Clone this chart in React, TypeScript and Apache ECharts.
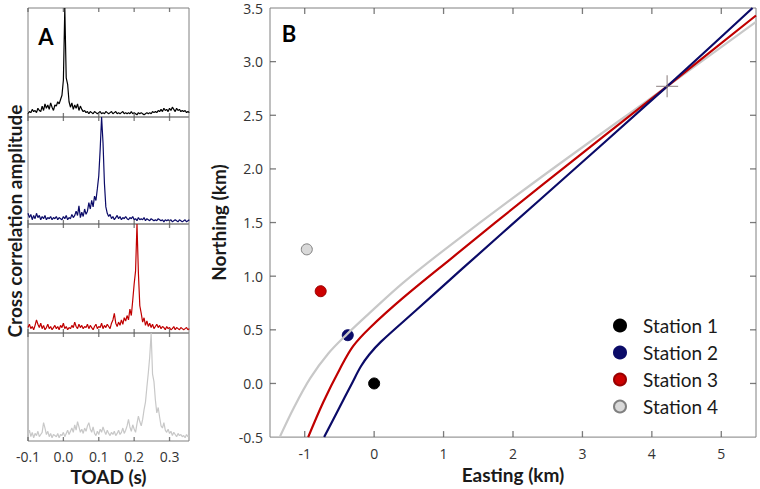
import React, { useEffect, useRef } from "react";
import * as echarts from "echarts";

// ---------- Panel A: cross-correlation traces (TOAD grid: -0.1 s, step 0.004 s) ----------
const TOAD_START = -0.1;
const TOAD_STEP = 0.004;
const TOAD_TICKS = [-0.1, 0, 0.1, 0.2, 0.3];

const TRACE_1 = [
  0.03, 0.05, 0.04, 0.07, 0.05, 0.06, 0.04, 0.08, 0.06, 0.05,
  0.1, 0.06, 0.12, 0.08, 0.11, 0.07, 0.13, 0.09, 0.06, 0.11,
  0.1, 0.14, 0.12, 0.16, 0.2,
  0.34, 1.0, 0.36, 0.3, 0.14,
  0.09, 0.13, 0.07, 0.11, 0.08, 0.12, 0.06, 0.1, 0.07, 0.05,
  0.06, 0.04, 0.05, 0.03, 0.05, 0.04, 0.03, 0.05, 0.04, 0.03,
  0.04, 0.05, 0.03, 0.04, 0.03, 0.05, 0.04, 0.03, 0.04, 0.05,
  0.03, 0.04, 0.05, 0.03, 0.04, 0.03, 0.04, 0.05, 0.03, 0.04,
  0.03, 0.04, 0.03, 0.05, 0.03, 0.04, 0.03, 0.02, 0.04, 0.03,
  0.04, 0.03, 0.02, 0.03, 0.04, 0.03, 0.04, 0.03, 0.05, 0.04,
  0.05, 0.04, 0.06, 0.05, 0.07, 0.05, 0.08, 0.06, 0.07, 0.05,
  0.08, 0.06, 0.09, 0.07, 0.05, 0.08, 0.06, 0.07, 0.05, 0.06,
  0.05, 0.06, 0.04, 0.05, 0.04,
];

const TRACE_2 = [
  0.1, 0.06, 0.09, 0.04, 0.08, 0.05, 0.1, 0.06, 0.08, 0.04,
  0.07, 0.05, 0.08, 0.04, 0.06, 0.05, 0.07, 0.04, 0.06, 0.05,
  0.07, 0.04, 0.06, 0.05, 0.04, 0.07, 0.05, 0.08, 0.04, 0.06,
  0.05, 0.09, 0.06, 0.08, 0.12, 0.08, 0.17, 0.06, 0.11, 0.07,
  0.14, 0.09, 0.12, 0.2, 0.14, 0.22, 0.16, 0.26, 0.22, 0.33,
  0.45, 0.7, 1.0, 0.76, 0.38,
  0.16, 0.1, 0.07, 0.09, 0.05,
  0.07, 0.04, 0.06, 0.08, 0.05, 0.07, 0.04, 0.06, 0.05, 0.07,
  0.05, 0.04, 0.06, 0.05, 0.07, 0.04, 0.05, 0.03, 0.06, 0.04,
  0.05, 0.04, 0.06, 0.03, 0.05, 0.04, 0.03, 0.05, 0.04, 0.03,
  0.04, 0.03, 0.05, 0.04, 0.03, 0.04, 0.02, 0.04, 0.03, 0.04,
  0.03, 0.04, 0.02, 0.03, 0.04, 0.03, 0.02, 0.04, 0.03, 0.02,
  0.03, 0.04, 0.02, 0.03, 0.04,
];

const TRACE_3 = [
  0.05, 0.08, 0.04, 0.06, 0.03, 0.07, 0.12, 0.08, 0.05, 0.09,
  0.04, 0.07, 0.03, 0.05, 0.08, 0.04, 0.06, 0.03, 0.05, 0.07,
  0.04, 0.06, 0.03, 0.07, 0.05, 0.09, 0.04, 0.06, 0.03, 0.05,
  0.04, 0.07, 0.05, 0.1, 0.06, 0.04, 0.08, 0.05, 0.07, 0.04,
  0.06, 0.05, 0.08, 0.04, 0.07, 0.05, 0.03, 0.06, 0.08, 0.04,
  0.06, 0.05, 0.09, 0.04, 0.07, 0.05, 0.08, 0.06, 0.04, 0.09,
  0.12, 0.18, 0.09, 0.06, 0.1, 0.07, 0.12, 0.08, 0.14, 0.11,
  0.16, 0.12, 0.22, 0.16, 0.3, 0.45, 0.57, 1.0, 0.55, 0.25,
  0.18, 0.1, 0.14, 0.07, 0.11, 0.06, 0.09, 0.05, 0.08, 0.04,
  0.06, 0.08, 0.05, 0.07, 0.04, 0.06, 0.05, 0.03, 0.06, 0.04,
  0.05, 0.03, 0.04, 0.06, 0.03, 0.05, 0.04, 0.03, 0.05, 0.04,
  0.03, 0.04, 0.05, 0.03, 0.04,
];

const TRACE_4 = [
  0.06, 0.1, 0.04, 0.08, 0.03, 0.07, 0.05, 0.09, 0.04, 0.06,
  0.08, 0.17, 0.12, 0.06, 0.09, 0.04, 0.07, 0.03, 0.06, 0.05,
  0.04, 0.07, 0.03, 0.06, 0.05, 0.08, 0.04, 0.07, 0.1, 0.06,
  0.09, 0.12, 0.08, 0.15, 0.1, 0.18, 0.13, 0.08, 0.11, 0.07,
  0.12, 0.09, 0.14, 0.17, 0.11, 0.08, 0.13, 0.07, 0.05, 0.09,
  0.06, 0.11, 0.08, 0.13, 0.09, 0.06, 0.1, 0.07, 0.05, 0.08,
  0.06, 0.09, 0.05, 0.07, 0.1, 0.06, 0.08, 0.12, 0.07, 0.1,
  0.14, 0.2, 0.13, 0.09, 0.15, 0.11, 0.08, 0.16, 0.23, 0.18,
  0.14, 0.2, 0.29, 0.36, 0.5, 0.63, 0.78, 1.0, 0.62, 0.55,
  0.38, 0.26, 0.31, 0.22, 0.14, 0.12, 0.17, 0.1, 0.08, 0.11,
  0.07, 0.09, 0.05, 0.08, 0.06, 0.04, 0.07, 0.05, 0.06, 0.04,
  0.05, 0.03, 0.06, 0.04, 0.05,
];

const TRACES = [TRACE_1, TRACE_2, TRACE_3, TRACE_4];
const STATION_COLORS = ["#000000", "#0b0b68", "#c00000", "#c8c8c8"];

// ---------- Panel B: stations, hyperbolas, source ----------
const STATION_NAMES = ["Station 1", "Station 2", "Station 3", "Station 4"];
const STATION_EASTING = [0, -0.38, -0.77, -0.97];
const STATION_NORTHING = [0, 0.45, 0.86, 1.25];
const STATION_FILL = ["#000000", "#0b0b68", "#cc0000", "#d9d9d9"];
const STATION_BORDER = ["#000000", "#0b0b68", "#990000", "#808080"];

const HYPERBOLA_2 = [
  [-0.72, -0.5], [-0.52, -0.25], [-0.32, 0.0], [-0.19, 0.16], [-0.07, 0.27],
  [0.1, 0.39], [0.6, 0.68], [1.27, 1.07], [2.4, 1.72], [4.22, 2.77], [5.45, 3.5],
];
const HYPERBOLA_3 = [
  [-0.95, -0.5], [-0.73, -0.17], [-0.49, 0.14], [-0.3, 0.35], [-0.06, 0.52],
  [0.42, 0.8], [1.1, 1.16], [2.4, 1.84], [4.22, 2.77], [5.5, 3.43],
];
const HYPERBOLA_4 = [
  [-1.36, -0.5], [-1.16, -0.23], [-0.92, 0.05], [-0.66, 0.28], [-0.39, 0.46],
  [-0.06, 0.66], [0.42, 0.94], [1.1, 1.29], [2.4, 1.92], [4.22, 2.77], [5.5, 3.37],
];
const HYPERBOLAS = [HYPERBOLA_2, HYPERBOLA_3, HYPERBOLA_4];
const HYPERBOLA_COLORS = ["#0b0b68", "#c00000", "#c8c8c8"];
const SOURCE = [4.22, 2.77];

const EASTING_TICKS = [-1, 0, 1, 2, 3, 4, 5];
const NORTHING_TICKS = [-0.5, 0, 0.5, 1, 1.5, 2, 2.5, 3, 3.5];
const NORTHING_INNER_TICKS = [0, 0.5, 1, 1.5, 2, 2.5, 3];

const E_MIN = -1.5;
const E_MAX = 5.5;
const N_MIN = -0.5;
const N_MAX = 3.5;

const LABEL_FONT = "'Open Sans', 'Noto Sans', sans-serif";
const TITLE_FONT = "Lato, 'Open Sans', sans-serif";
const FRAME = "#808080";
const TICK = "#5a5a5a";

const A_TOPS = [8, 117, 224, 333];
const A_HEIGHTS = [109, 107, 109, 108];

export default function App() {
  const ref = useRef<HTMLDivElement>(null);

  useEffect(() => {
    if (!ref.current) return;
    const chart = echarts.init(ref.current, undefined, { renderer: "svg" });

    const grids: any[] = A_TOPS.map((top, k) => ({
      left: 28,
      top,
      width: 161,
      height: A_HEIGHTS[k],
      show: true,
      borderColor: FRAME,
      borderWidth: 1,
      backgroundColor: "transparent",
    }));
    grids.push({
      left: 270,
      top: 8,
      width: 486,
      height: 431,
      show: true,
      borderColor: FRAME,
      borderWidth: 1,
      backgroundColor: "transparent",
    });

    const labelStyle = {
      fontFamily: LABEL_FONT,
      fontSize: 14,
      color: "#333333",
    };
    const titleStyle = {
      fontFamily: TITLE_FONT,
      fontWeight: "bold",
      fontSize: 19,
      color: "#1a1a1a",
    };
    const hiddenLine = { show: false, onZero: false };

    const xAxes: any[] = [];
    const yAxes: any[] = [];
    for (let k = 0; k < 4; k++) {
      xAxes.push({
        type: "value",
        gridIndex: k,
        position: "bottom",
        min: -0.1,
        max: 0.355,
        axisLine: hiddenLine,
        axisTick: { show: false },
        axisLabel: {
          show: k === 3,
          customValues: TOAD_TICKS,
          formatter: (v: number) => v.toFixed(1),
          margin: 8,
          ...labelStyle,
        },
        splitLine: { show: false },
        name: k === 3 ? "TOAD (s)" : "",
        nameLocation: "middle",
        nameGap: 26,
        nameTextStyle: titleStyle,
      });
      yAxes.push({
        type: "value",
        gridIndex: k,
        min: 0,
        max: 1,
        show: false,
      });
    }
    // Panel B axes
    xAxes.push({
      type: "value",
      gridIndex: 4,
      position: "bottom",
      min: E_MIN,
      max: E_MAX,
      axisLine: hiddenLine,
      axisTick: { show: false },
      axisLabel: {
        customValues: EASTING_TICKS,
        formatter: (v: number) => String(v),
        margin: 9,
        ...labelStyle,
      },
      splitLine: { show: false },
      name: "Easting (km)",
      nameLocation: "middle",
      nameGap: 26,
      nameTextStyle: titleStyle,
    });
    yAxes.push({
      type: "value",
      gridIndex: 4,
      position: "left",
      min: N_MIN,
      max: N_MAX,
      interval: 0.5,
      axisLine: hiddenLine,
      axisTick: { show: false },
      axisLabel: {
        customValues: NORTHING_TICKS,
        formatter: (v: number) => v.toFixed(1),
        margin: 7,
        ...labelStyle,
      },
      splitLine: { show: false },
      name: "Northing (km)",
      nameLocation: "middle",
      nameGap: 35,
      nameTextStyle: titleStyle,
    });

    const series: any[] = [];
    const tickMarks = (
      xi: number,
      yi: number,
      data: number[][],
      size: number[],
      offset: number[]
    ) => ({
      type: "scatter",
      xAxisIndex: xi,
      yAxisIndex: yi,
      data,
      symbol: "rect",
      symbolSize: size,
      symbolOffset: offset,
      clip: false,
      silent: true,
      itemStyle: { color: TICK },
      z: 8,
    });

    TRACES.forEach((trace, k) => {
      series.push({
        type: "line",
        name: "Trace " + (k + 1),
        xAxisIndex: k,
        yAxisIndex: k,
        data: trace.map((v, i) => [TOAD_START + i * TOAD_STEP, v]),
        showSymbol: false,
        symbol: "none",
        clip: true,
        lineStyle: { color: STATION_COLORS[k], width: 1.2 },
        z: 2,
      });
      series.push(
        tickMarks(k, k, TOAD_TICKS.map((v) => [v, 0]), [1.3, 4], [0, -2])
      );
      series.push(
        tickMarks(k, k, TOAD_TICKS.map((v) => [v, 1]), [1.3, 4], [0, 2])
      );
    });

    // Panel B tick marks (inside, on all four sides)
    series.push(
      tickMarks(4, 4, EASTING_TICKS.map((v) => [v, N_MIN]), [1.3, 6], [0, -3])
    );
    series.push(
      tickMarks(4, 4, EASTING_TICKS.map((v) => [v, N_MAX]), [1.3, 6], [0, 3])
    );
    series.push(
      tickMarks(4, 4, NORTHING_INNER_TICKS.map((v) => [E_MIN, v]), [6, 1.3], [3, 0])
    );
    series.push(
      tickMarks(4, 4, NORTHING_INNER_TICKS.map((v) => [E_MAX, v]), [6, 1.3], [-3, 0])
    );

    STATION_NAMES.forEach((name, k) => {
      series.push({
        type: "scatter",
        name,
        xAxisIndex: 4,
        yAxisIndex: 4,
        data: [[STATION_EASTING[k], STATION_NORTHING[k]]],
        symbol: "circle",
        symbolSize: 11,
        itemStyle: {
          color: STATION_FILL[k],
          borderColor: STATION_BORDER[k],
          borderWidth: 1,
          opacity: 1,
        },
        z: 2,
      });
    });

    HYPERBOLAS.forEach((pts, k) => {
      series.push({
        type: "line",
        name: "Hyperbola " + (k + 2),
        xAxisIndex: 4,
        yAxisIndex: 4,
        data: pts,
        smooth: 0.35,
        showSymbol: false,
        symbol: "none",
        clip: true,
        lineStyle: { color: HYPERBOLA_COLORS[k], width: 2.2 },
        z: 3 + (2 - k),
      });
    });

    series.push({
      type: "scatter",
      name: "Source",
      xAxisIndex: 4,
      yAxisIndex: 4,
      data: [SOURCE],
      symbol: "path://M0,11 L22,11 M11,0 L11,22",
      symbolSize: 22,
      itemStyle: {
        color: "rgba(0,0,0,0)",
        borderColor: "#8c7f7f",
        borderWidth: 1.3,
      },
      z: 6,
    });

    chart.setOption({
      animation: false,
      backgroundColor: "#ffffff",
      grid: grids,
      xAxis: xAxes,
      yAxis: yAxes,
      legend: {
        data: STATION_NAMES,
        orient: "vertical",
        left: 608,
        top: 311,
        itemWidth: 12,
        itemHeight: 12,
        itemGap: 8,
        icon: "circle",
        selectedMode: false,
        textStyle: {
          fontFamily: TITLE_FONT,
          fontSize: 19,
          lineHeight: 18,
          color: "#1a1a1a",
          padding: [0, 0, 0, 12],
        },
      },
      graphic: [
        {
          type: "text",
          x: 14,
          y: 221,
          rotation: Math.PI / 2,
          style: {
            text: "Cross correlation amplitude",
            fontFamily: TITLE_FONT,
            fontWeight: "bold",
            fontSize: 19,
            fill: "#1a1a1a",
            align: "center",
            verticalAlign: "middle",
          },
        },
        {
          type: "text",
          x: 46,
          y: 36,
          style: {
            text: "A",
            fontFamily: TITLE_FONT,
            fontWeight: "bold",
            fontSize: 22,
            fill: "#000000",
            align: "center",
            verticalAlign: "middle",
          },
        },
        {
          type: "text",
          x: 289,
          y: 33,
          style: {
            text: "B",
            fontFamily: TITLE_FONT,
            fontWeight: "bold",
            fontSize: 22,
            fill: "#000000",
            align: "center",
            verticalAlign: "middle",
          },
        },
      ],
      series,
    });

    return () => chart.dispose();
  }, []);

  return (
    <div
      ref={ref}
      style={{ position: "fixed", left: 0, top: 0, width: 760, height: 489 }}
    />
  );
}
